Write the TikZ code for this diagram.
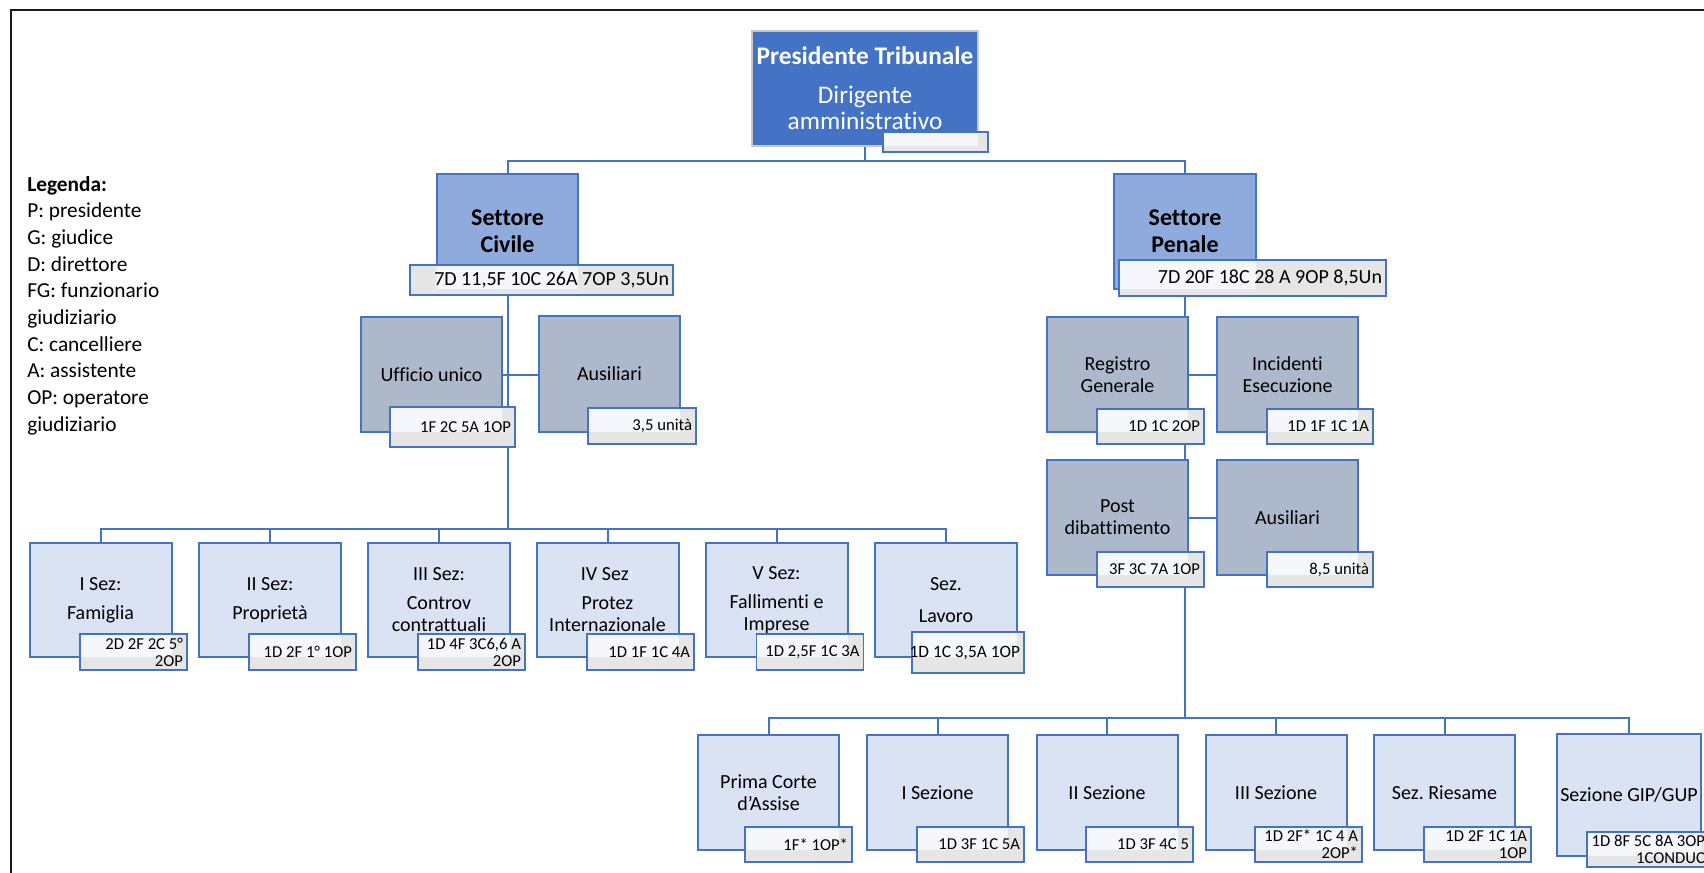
\documentclass[tikz,border=0pt]{standalone}
\usepackage{fontspec}
\setmainfont{Carlito}[RawFeature={-liga;-clig;-calt;-dlig}]
\usetikzlibrary{backgrounds}

\definecolor{orgblue}{HTML}{4472C4}
\definecolor{presline}{HTML}{C9C9C9}
\definecolor{settfill}{HTML}{8FAADC}
\definecolor{midfill}{HTML}{ADB9CA}
\definecolor{secfill}{HTML}{DAE3F3}
\definecolor{valgray}{HTML}{E7E6E6}
\definecolor{valhi}{HTML}{F5F7FC}
\definecolor{framecol}{HTML}{1A1A1A}
\definecolor{sezcolon}{HTML}{F2F2F2}

% font sizes (1 px = 0.75 pt)
\newcommand{\fbody}{\fontsize{15}{16.5}\selectfont}
\newcommand{\fpres}{\fontsize{19}{20}\selectfont}
\newcommand{\fsett}{\fontsize{18}{20}\selectfont\bfseries}
\newcommand{\fleg}{\fontsize{16}{20}\selectfont}
\newcommand{\fval}{\fontsize{12.5}{12.75}\selectfont}
\newcommand{\fvalbig}{\fontsize{15}{16}\selectfont}
\newcommand{\fvalmid}{\fontsize{13}{14}\selectfont}

% one right-aligned line of a staff box, never wrapped
\newcommand{\rl}[1]{\makebox[\valtw][r]{#1}}

\begin{document}
\frenchspacing
\begin{tikzpicture}[x=0.75pt,y=-0.75pt,
  box/.style={draw=orgblue, line width=1.5pt, inner sep=0pt, outer sep=0pt,
    align=center, text=black},
  sz/.style 2 args={minimum width=#1*0.75pt, minimum height=#2*0.75pt},
  presbox/.style={box, draw=presline, fill=orgblue, text=white, font=\fpres},
  settbox/.style={box, fill=settfill, font=\fsett},
  midbox/.style={box, fill=midfill, font=\fbody},
  secbox/.style={box, fill=secfill, font=\fbody},
  valbox/.style 2 args={draw=orgblue, line width=1.2pt, fill=valgray,
    inner xsep=3pt, inner ysep=0pt, outer sep=0pt, align=right, font=\fval,
    minimum width=#1*0.75pt, minimum height=#2*0.75pt,
    /utils/exec={\pgfmathsetlengthmacro\valtw{(#1-8)*0.75pt}}},
  over/.style={path picture={\fill[valhi] (#1.north west) rectangle (#1.south east);}},
  conn/.style={draw=orgblue, line width=1.5pt},
]
\useasboundingbox (0,0) rectangle (1704,872);

% page frame
\draw[framecol, line width=1.6pt] (11,890) -- (11,10) -- (1720,10);

% legend
\node[anchor=north west, align=left, inner sep=0pt, font=\fleg] (legend) at (27,176)
  {\textbf{Legenda:}\\P: presidente\\G: giudice\\D: direttore\\FG: funzionario\\giudiziario\\C: cancelliere\\A: assistente\\OP: operatore\\giudiziario};

% top
\node[presbox, sz={226}{115}] (pres) at (865,88.5)
  {\textbf{Presidente Tribunale}\\[9pt]Dirigente\\amministrativo};
\node[valbox={105}{20}, over=pres] (presval) at (935.5,142) {};

% sectors
\node[settbox, sz={141}{115}] (civ) at (507.5,231) {Settore\\Civile};
\node[valbox={263}{30}, over=civ, font=\fvalbig] (civval) at (541.5,280)
  {\rl{7D 11,5F 10C 26A 7OP 3,5Un}};
\node[settbox, sz={142}{115}] (pen) at (1185,231.5) {Settore\\Penale};
\node[valbox={267}{36}, over=pen, font=\fvalbig] (penval) at (1252.5,278)
  {\rl{7D 20F 18C 28 A 9OP 8,5Un}};

% civil offices
\node[midbox, sz={141}{115}] (uff) at (431.5,374.5) {Ufficio unico};
\node[valbox={125}{40}, over=uff] (uffval) at (452.5,427) {\rl{1F 2C 5A 1OP}};
\node[midbox, sz={141}{116}] (aus) at (609.5,374) {Ausiliari};
\node[valbox={108}{36}, over=aus] (ausval) at (642,426) {\rl{3,5 unità}};

% criminal offices
\node[midbox, sz={141}{115}] (reg) at (1117.5,374.5) {Registro\\Generale};
\node[valbox={107}{35}, over=reg] (regval) at (1150.5,426.5) {\rl{1D 1C 2OP}};
\node[midbox, sz={141}{115}] (inc) at (1287.5,374.5) {Incidenti\\Esecuzione};
\node[valbox={106}{35}, over=inc] (incval) at (1320,426.5) {\rl{1D 1F 1C 1A}};
\node[midbox, sz={141}{115}] (post) at (1117.5,517.5) {Post\\dibattimento};
\node[valbox={107}{35}, over=post] (postval) at (1150.5,569.5) {\rl{3F 3C 7A 1OP}};
\node[midbox, sz={141}{115}] (aus2) at (1287.5,517.5) {Ausiliari};
\node[valbox={106}{35}, over=aus2] (aus2val) at (1320,569.5) {\rl{8,5 unità}};

% civil sections
\node[secbox, sz={142}{114}] (cs1) at (100.5,600) {I Sez:\\[5.25pt]Famiglia};
\node[valbox={107}{36}, over=cs1] (cv1) at (133.5,652) {\rl{2D 2F 2C 5°}\\\rl{2OP}};
\node[secbox, sz={142}{114}] (cs2) at (270,600) {II Sez:\\[5.25pt]Proprietà};
\node[valbox={107}{36}, over=cs2] (cv2) at (302.5,652) {\rl{1D 2F 1° 1OP}};
\node[secbox, sz={142}{114}] (cs3) at (439,600) {III Sez:\\[5.25pt]Controv\\contrattuali};
\node[valbox={107}{36}, over=cs3] (cv3) at (471.5,652) {\rl{1D 4F 3C6,6 A}\\\rl{2OP}};
\node[secbox, sz={142}{114}] (cs4) at (607.5,600) {IV Sez{\color{sezcolon}:}\\[5.25pt]Protez\\Internazionale};
\node[valbox={107}{36}, over=cs4] (cv4) at (640.5,652) {\rl{1D 1F 1C 4A}};
\node[secbox, sz={142}{114}] (cs5) at (776.5,600) {V Sez:\\[5.25pt]Fallimenti e\\Imprese};
\node[valbox={107}{36}, over=cs5] (cv5) at (810,652) {\rl{1D 2,5F 1C 3A}};
\node[secbox, sz={142}{114}] (cs6) at (946,600) {Sez.\\[7.5pt]Lavoro};
\node[valbox={112}{41}, over=cs6, font=\fvalmid] (cv6) at (968,652.5) {\rl{1D 1C 3,5A 1OP}};

% criminal sections
\node[secbox, sz={141}{115}] (ps1) at (768.5,792.5) {Prima Corte\\d’Assise};
\node[valbox={107}{35}, over=ps1] (pv1) at (798.5,844.5) {\rl{1F* 1OP*}};
\node[secbox, sz={141}{115}] (ps2) at (937.5,792.5) {I Sezione};
\node[valbox={107}{35}, over=ps2] (pv2) at (970.5,844.5) {\rl{1D 3F 1C 5A}};
\node[secbox, sz={141}{115}] (ps3) at (1107,792.5) {II Sezione};
\node[valbox={107}{35}, over=ps3] (pv3) at (1139.5,844.5) {\rl{1D 3F 4C 5}};
\node[secbox, sz={141}{115}] (ps4) at (1276,792.5) {III Sezione};
\node[valbox={107}{35}, over=ps4] (pv4) at (1308.5,844.5) {\rl{1D 2F* 1C 4 A}\\\rl{2OP*}};
\node[secbox, sz={141}{115}] (ps5) at (1444.5,792.5) {Sez. Riesame};
\node[valbox={107}{35}, over=ps5] (pv5) at (1477.5,844.5) {\rl{1D 2F 1C 1A}\\\rl{1OP}};
\node[secbox, sz={144}{122}] (ps6) at (1629,795) {Sezione GIP/GUP};
\node[valbox={122}{35}, over=ps6] (pv6) at (1648,849.5) {\rl{1D 8F 5C 8A 3OP}\\\rl{1CONDUC}};

% junction points of the tree
\coordinate (hub) at (865,161);
\coordinate (civbus) at (507.5,529);
\coordinate (penbus) at (1185,718);

\begin{scope}[on background layer]
  \draw[conn] (pres.south) -- (hub);
  \draw[conn] (hub) -| (civ.north);
  \draw[conn] (hub) -| (pen.north);
  % civil branch
  \draw[conn] (civ) -- (civbus);
  \draw[conn] (uff.east) -- (uff.east -| aus.west);
  \foreach \s in {cs1,cs2,cs3,cs4,cs5,cs6}
    \draw[conn] (civbus) -| (\s.north);
  % criminal branch
  \draw[conn] (pen) -- (penbus);
  \draw[conn] (reg.east) -- (inc.west);
  \draw[conn] (post.east) -- (aus2.west);
  \foreach \s in {ps1,ps2,ps3,ps4,ps5,ps6}
    \draw[conn] (penbus) -| (\s.north);
\end{scope}
\end{tikzpicture}
\end{document}
